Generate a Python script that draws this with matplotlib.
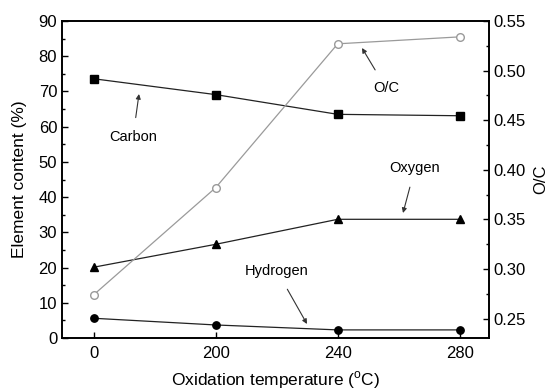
import matplotlib
matplotlib.use("Agg")
import matplotlib.pyplot as plt
from matplotlib.ticker import MultipleLocator

plt.rcParams['font.family'] = ['Liberation Sans', 'DejaVu Sans']
plt.rcParams['mathtext.fontset'] = 'custom'
plt.rcParams['mathtext.rm'] = 'Liberation Sans'

temps = ['0', '200', '240', '280']
carbon = [73.6, 69.1, 63.5, 63.1]
oxygen = [20.1, 26.6, 33.7, 33.7]
hydrogen = [5.6, 3.7, 2.3, 2.3]
oc_ratio = [0.274, 0.382, 0.527, 0.534]

x = list(range(len(temps)))

fig = plt.figure(figsize=(5.54, 3.92), dpi=100)
ax = fig.add_axes([62/554, 1 - 338/392, (489-62)/554, (338-21)/392])
ax2 = ax.twinx()

ax.plot(x, carbon, color='#222222', lw=0.9, marker='s', ms=5.2, mfc='black', mec='black', zorder=3)
ax.plot(x, oxygen, color='#222222', lw=0.9, marker='^', ms=6, mfc='black', mec='black', zorder=3)
ax.plot(x, hydrogen, color='#222222', lw=0.9, marker='o', ms=5.3, mfc='black', mec='black', zorder=3)
ax2.plot(x, oc_ratio, color='#9a9a9a', lw=0.9, marker='o', ms=5.5, mfc='white', mec='#9a9a9a', zorder=3)

ax.set_xlim(-0.26, 3.24)
ax.set_ylim(0, 90)
ax2.set_ylim(0.2304, 0.55)
ax.set_xticks(x)
ax.set_xticklabels(temps)
ax.yaxis.set_major_locator(MultipleLocator(10))
ax.yaxis.set_minor_locator(MultipleLocator(5))
ax2.yaxis.set_major_locator(MultipleLocator(0.05))
ax2.yaxis.set_minor_locator(MultipleLocator(0.025))
ax2.yaxis.set_major_formatter(matplotlib.ticker.FormatStrFormatter('%.2f'))

for a in (ax, ax2):
    a.tick_params(which='both', direction='in', labelsize=12, width=1)
    a.tick_params(which='major', length=4)
    a.tick_params(which='minor', length=2.5)
    for s in a.spines.values():
        s.set_linewidth(1.2)
ax.tick_params(axis='x', pad=6)
ax.tick_params(axis='y', right=False)

ax.set_ylabel('Element content (%)', fontsize=12.5, labelpad=8)
ax.set_xlabel(r'Oxidation temperature ($^{\mathrm{o}}$C)', fontsize=12.5, labelpad=6)
ax2.set_ylabel('O/C', fontsize=12, labelpad=5)

def ann(text, tx, ty, hx, hy):
    ax.annotate(text, xy=(hx/554, 1 - hy/392), xycoords='figure fraction',
                xytext=(tx/554, 1 - ty/392), textcoords='figure fraction',
                fontsize=10.5, ha='center', va='center',
                arrowprops=dict(arrowstyle='-|>', color='#333333', lw=0.8,
                                shrinkA=7, shrinkB=0, mutation_scale=7))

ann('Carbon', 133, 137, 139, 94)
ann('O/C', 386, 88, 362, 48)
ann('Oxygen', 415, 168, 403, 213)
ann('Hydrogen', 277, 271, 307, 324)

fig.savefig('out.png', dpi=100)
